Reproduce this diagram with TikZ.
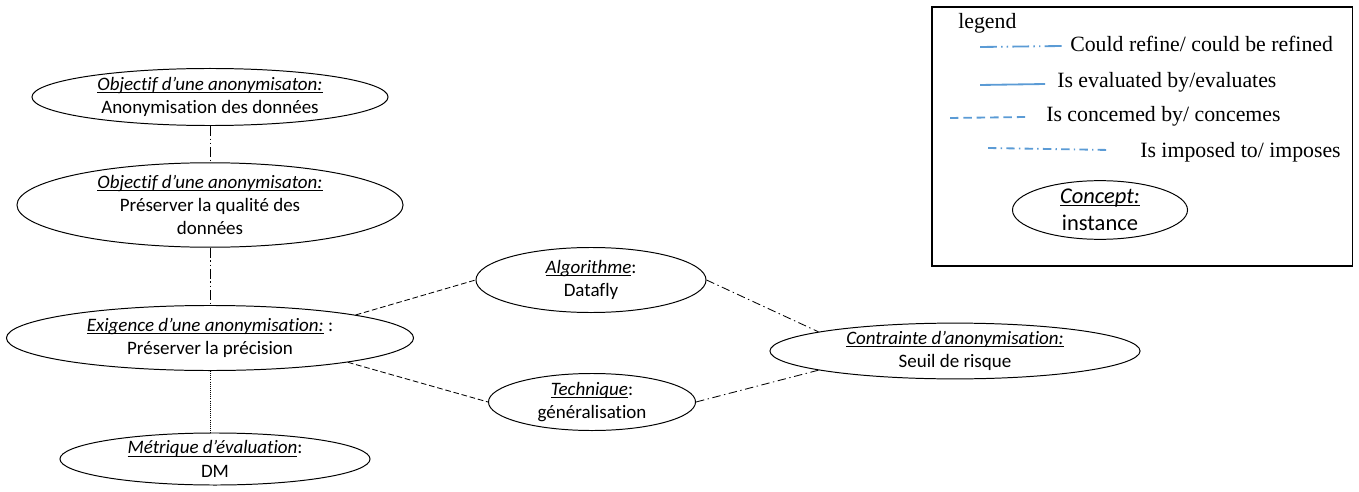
\documentclass[tikz,border=0pt]{standalone}
\usepackage{fontspec}
\setmainfont{Carlito}[Ligatures=NoCommon]
\newfontfamily\legendfont{Liberation Serif}
\usetikzlibrary{shapes.geometric}
\definecolor{legendBlue}{HTML}{5B9BD5}

\newsavebox{\titlebox}
\newcommand{\ctitle}[1]{\sbox{\titlebox}{\itshape #1}%
  \rlap{\rule[-1.6pt]{\wd\titlebox}{0.5pt}}\usebox{\titlebox}}

\begin{document}
\begin{tikzpicture}[
    x=0.025cm, y=-0.025cm,
    concept/.style n args={2}{ellipse, draw, line width=0.7pt, inner sep=0pt,
                minimum width=#1, minimum height=#2, align=center,
                font=\fontsize{13.5}{16.5}\selectfont},
    refine/.style={line width=0.6pt, dash pattern=on 7pt off 2pt on 1pt off 2pt on 1pt off 2pt},
    evaluated/.style={line width=0.5pt, densely dotted},
    concerned/.style={line width=0.6pt, dash pattern=on 4pt off 2pt},
    imposed/.style={line width=0.6pt, dash pattern=on 6pt off 2.5pt on 1pt off 2.5pt},
    legendline/.style={draw=legendBlue, line width=1.3pt},
    legendtext/.style={anchor=west, inner sep=0pt, font=\legendfont\fontsize{15.5}{17}\selectfont},
  ]
    \useasboundingbox (0,0) rectangle (1359,492);

    % concepts and instances
    \node[concept={8.9cm}{1.425cm}] (obj1) at (210,97)
      {\ctitle{Objectif d’une anonymisaton:}\\Anonymisation des données};
    \node[concept={9.65cm}{1.875cm}] (obj2) at (210,205)
      {\ctitle{Objectif d’une anonymisaton:}\\Préserver la qualité des\\données};
    \node[concept={10.175cm}{1.625cm}] (exig) at (210,338)
      {\ctitle{Exigence d’une anonymisation:} :\\Préserver la précision};
    \node[concept={7.75cm}{1.3cm}] (metr) at (215,459)
      {\ctitle{Métrique d’évaluation}:\\DM};
    \node[concept={5.75cm}{1.625cm}] (algo) at (591,280)
      {\ctitle{Algorithme}:\\Datafly};
    \node[concept={5.175cm}{1.425cm}] (tech) at (592,402)
      {\ctitle{Technique}:\\généralisation};
    \node[concept={9.25cm}{1.375cm}] (contr) at (955,351)
      {\ctitle{Contrainte d’anonymisation:}\\Seuil de risque};

    % relations
    \draw[refine] (obj1) -- (obj2);
    \draw[refine] (obj2) -- (exig);
    \draw[evaluated] (exig.south) -- (exig.south |- metr.north);
    \draw[concerned] (exig.9) -- (algo.west);
    \draw[concerned] (exig.-10) -- (tech.west);
    \draw[imposed] (algo.east) -- (contr.172);
    \draw[imposed] (tech.east) -- (contr.188);

    % legend
    \node[draw, line width=0.8pt, minimum width=10.5cm, minimum height=6.475cm,
          inner sep=0pt] (legend) at (1142,136.5) {};
    \node[legendtext] (lgTitle) at (958,23) {legend};
    \node[legendtext] (lgRefine) at (1070,44) {Could refine/ could be refined};
    \node[legendtext] (lgEval) at (1057,82) {Is evaluated by/evaluates};
    \node[legendtext] (lgConc) at (1046,116) {Is concemed by/ concemes};
    \node[legendtext] (lgImp) at (1140,152) {Is imposed to/ imposes};
    \draw[legendline, dash pattern=on 12pt off 3pt on 1pt off 3pt on 1pt off 3pt]
      (980,47) -- (1062,46);
    \draw[legendline] (980,85) -- (1045,84);
    \draw[legendline, dash pattern=on 6pt off 3.5pt] (950,118) -- (1025,117);
    \draw[legendline, dash pattern=on 6pt off 3pt on 1pt off 3pt] (988,148) -- (1110,150);
    \node[concept={4.375cm}{1.325cm}, font=\fontsize{16}{19}\selectfont] (example) at (1100,210)
      {\ctitle{Concept:}\\instance};
\end{tikzpicture}
\end{document}
